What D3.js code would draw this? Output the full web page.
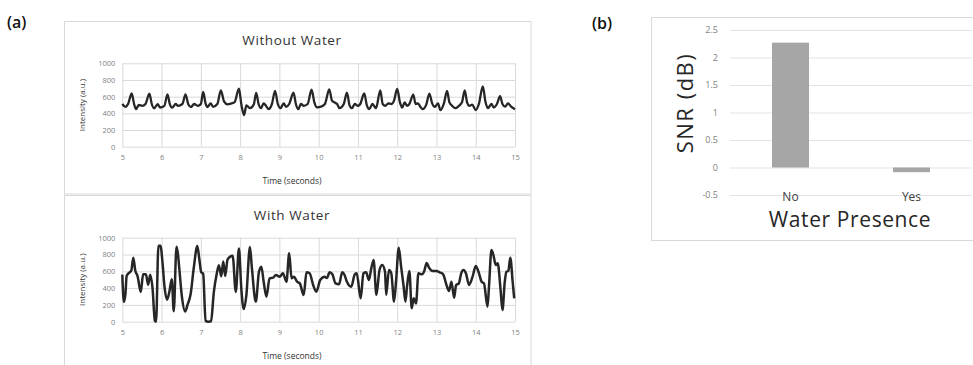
<!DOCTYPE html>
<html>
<head>
<meta charset="utf-8">
<script src="https://cdn.jsdelivr.net/npm/d3@7"></script>
<style>
  body { margin: 0; background: #fff; }
  svg { display: block; font-family: "Open Sans", sans-serif; }
</style>
</head>
<body>
<div id="chart"></div>
<script>
// Intensity traces, [time (s), intensity (a.u.)]
const withoutWater = [
  [5.00,512],[5.08,478],[5.15,515],[5.24,640],[5.30,512],[5.35,450],[5.42,500],[5.51,490],[5.59,512],
  [5.69,636],[5.75,512],[5.81,460],[5.90,510],[5.96,470],[6.07,490],[6.15,628],[6.21,510],[6.27,468],
  [6.36,512],[6.42,490],[6.53,512],[6.61,628],[6.68,510],[6.75,476],[6.83,512],[6.92,490],[7.00,512],
  [7.06,656],[7.12,520],[7.17,476],[7.25,520],[7.31,478],[7.42,512],[7.51,676],[7.59,544],[7.68,508],
  [7.78,520],[7.86,535],[7.97,696],[8.03,512],[8.10,380],[8.16,495],[8.25,462],[8.35,510],[8.41,645],
  [8.47,512],[8.53,462],[8.60,520],[8.66,490],[8.72,450],[8.81,512],[8.89,668],[8.96,512],[9.03,462],
  [9.11,520],[9.17,478],[9.25,512],[9.36,648],[9.42,512],[9.48,450],[9.55,512],[9.62,490],[9.72,512],
  [9.82,684],[9.89,532],[9.96,472],[10.06,480],[10.16,512],[10.27,688],[10.34,552],[10.40,532],[10.47,512],
  [10.53,462],[10.64,512],[10.72,648],[10.79,492],[10.85,462],[10.92,512],[11.00,490],[11.06,512],[11.16,640],
  [11.23,492],[11.29,450],[11.37,512],[11.46,462],[11.57,676],[11.63,512],[11.70,490],[11.77,520],[11.86,512],
  [11.92,552],[12.00,694],[12.07,532],[12.13,470],[12.19,532],[12.25,490],[12.31,512],[12.41,624],[12.47,512],
  [12.53,520],[12.59,478],[12.65,450],[12.74,504],[12.82,636],[12.89,520],[12.96,478],[13.04,520],[13.10,438],
  [13.19,520],[13.27,668],[13.33,532],[13.40,490],[13.48,462],[13.57,490],[13.65,532],[13.72,676],[13.78,532],
  [13.84,490],[13.91,504],[14.00,438],[14.08,512],[14.18,722],[14.25,532],[14.31,462],[14.40,512],[14.46,470],
  [14.54,512],[14.62,606],[14.68,512],[14.75,480],[14.82,520],[14.90,480],[15.00,450]
];

const withWater = [
  [5.00,560],[5.04,235],[5.08,330],[5.11,545],[5.18,585],[5.23,610],[5.28,762],[5.33,610],[5.39,540],
  [5.47,355],[5.53,565],[5.60,565],[5.66,440],[5.71,560],[5.77,400],[5.83,10],[5.86,0],[5.92,905],
  [5.97,905],[6.03,670],[6.07,437],[6.14,262],[6.20,360],[6.26,505],[6.31,125],[6.38,893],[6.42,794],
  [6.45,640],[6.52,290],[6.60,120],[6.66,200],[6.74,330],[6.82,640],[6.91,900],[6.96,750],[7.01,590],
  [7.06,570],[7.12,10],[7.19,0],[7.26,5],[7.33,350],[7.40,560],[7.46,672],[7.52,540],[7.57,718],
  [7.62,545],[7.68,740],[7.75,775],[7.81,785],[7.89,355],[7.97,870],[8.03,400],[8.09,150],[8.16,318],
  [8.25,890],[8.30,640],[8.40,238],[8.48,595],[8.54,655],[8.60,476],[8.67,298],[8.75,516],[8.84,524],
  [8.91,556],[9.01,536],[9.09,576],[9.18,476],[9.25,814],[9.31,516],[9.37,536],[9.45,476],[9.52,456],
  [9.62,318],[9.69,588],[9.77,576],[9.86,437],[9.94,357],[10.04,496],[10.15,536],[10.21,520],[10.28,588],
  [10.35,564],[10.43,456],[10.52,445],[10.60,588],[10.66,556],[10.72,476],[10.83,417],[10.92,564],[10.97,576],
  [11.07,278],[11.14,576],[11.21,588],[11.28,496],[11.34,635],[11.40,734],[11.47,318],[11.55,615],[11.62,675],
  [11.69,595],[11.72,318],[11.79,615],[11.85,576],[11.92,238],[11.97,476],[12.04,881],[12.10,655],[12.16,437],
  [12.21,238],[12.25,417],[12.31,603],[12.37,159],[12.42,278],[12.48,218],[12.54,576],[12.63,564],[12.69,603],
  [12.75,699],[12.81,643],[12.90,603],[13.00,603],[13.08,588],[13.17,564],[13.25,445],[13.32,365],[13.38,476],
  [13.45,286],[13.50,437],[13.57,456],[13.63,576],[13.69,615],[13.75,576],[13.83,437],[13.92,536],[14.00,663],
  [14.07,595],[14.15,476],[14.21,456],[14.30,179],[14.34,437],[14.40,853],[14.45,794],[14.51,675],[14.56,695],
  [14.63,397],[14.68,139],[14.74,476],[14.78,595],[14.83,603],[14.88,762],[14.94,476],[14.98,278]
];

const timeTicks = [5, 6, 7, 8, 9, 10, 11, 12, 13, 14, 15];
const intensityTicks = [0, 200, 400, 600, 800, 1000];

// SNR bar chart
const waterPresence = ["No", "Yes"];
const snrValues = [2.27, -0.085];
const snrTicks = [-0.5, 0, 0.5, 1, 1.5, 2, 2.5];
const snrTickLabels = ["-0.5", "0", "0.5", "1", "1.5", "2", "2.5"];

const width = 973, height = 365;
const gridColor = "#d9d9d9";
const tickColor = "#7f7f7f";

const svg = d3.select("#chart").append("svg")
  .attr("width", width)
  .attr("height", height);

svg.append("rect").attr("width", width).attr("height", height).attr("fill", "#fff");

// panel labels
svg.append("text").attr("x", 7).attr("y", 28)
  .style("font-size", "16px").style("font-weight", 600).attr("fill", "#111").text("(a)");
svg.append("text").attr("x", 592).attr("y", 29)
  .style("font-size", "16px").style("font-weight", 600).attr("fill", "#111").text("(b)");

const x = d3.scaleLinear().domain([5, 15]).range([122.3, 515]);

function drawTrace(box, top, bottom, title, data, lineWidth) {
  // chart frame
  svg.append("rect")
    .attr("x", box[0]).attr("y", box[1])
    .attr("width", box[2]).attr("height", box[3])
    .attr("fill", "none").attr("stroke", gridColor).attr("stroke-width", 1);

  const y = d3.scaleLinear().domain([0, 1000]).range([bottom, top]);
  const g = svg.append("g");

  const yAxis = g.append("g")
    .attr("transform", `translate(${x(5)},0)`)
    .call(d3.axisLeft(y).tickValues(intensityTicks).tickFormat(d3.format("d"))
      .tickSize(-(x(15) - x(5))).tickPadding(7));
  const xAxis = g.append("g")
    .attr("transform", `translate(0,${bottom})`)
    .call(d3.axisBottom(x).tickValues(timeTicks).tickSize(-(bottom - top)).tickPadding(8));

  [yAxis, xAxis].forEach(a => {
    a.select(".domain").remove();
    a.selectAll("line").attr("stroke", gridColor);
    a.selectAll("text").attr("fill", tickColor).style("font-size", "7.5px").style("font-family", "Open Sans");
  });

  // smoothed line like the spreadsheet chart
  const line = d3.line()
    .x(d => x(d[0]))
    .y(d => y(d[1]))
    .curve(d3.curveMonotoneX);

  g.append("path")
    .datum(data)
    .attr("fill", "none")
    .attr("stroke", "#262626")
    .attr("stroke-width", lineWidth)
    .attr("stroke-linejoin", "round")
    .attr("d", line);

  g.append("text")
    .attr("x", 292).attr("y", top - 18)
    .attr("text-anchor", "middle")
    .style("font-size", "13.5px").attr("fill", "#333")
    .style("letter-spacing", "0.6px")
    .text(title);

  g.append("text")
    .attr("transform", `translate(85,${(top + bottom) / 2}) rotate(-90)`)
    .attr("text-anchor", "middle")
    .style("font-size", "8px").attr("fill", "#333")
    .text("Intensity (a.u.)");

  g.append("text")
    .attr("x", 292).attr("y", bottom + 37)
    .attr("text-anchor", "middle")
    .style("font-size", "8.5px").attr("fill", "#333")
    .text("Time (seconds)");
}

drawTrace([64.5, 21.5, 466.5, 172.5], 63.3, 146.7, "Without Water", withoutWater, 2.3);
drawTrace([64.5, 195.5, 466.5, 180], 237.7, 321.7, "With Water", withWater, 2.5);

// ---- (b) SNR bars ----
svg.append("rect")
  .attr("x", 651.5).attr("y", 17.5)
  .attr("width", 330).attr("height", 223)
  .attr("fill", "none").attr("stroke", gridColor);

const xb = d3.scaleBand().domain(waterPresence).range([730, 972]).padding(0);
const yb = d3.scaleLinear().domain([-0.5, 2.5]).range([195, 30]);

const gb = svg.append("g");
const ybAxis = gb.append("g")
  .attr("transform", "translate(730,0)")
  .call(d3.axisLeft(yb).tickValues(snrTicks).tickSize(-242).tickPadding(12)
    .tickFormat((d, i) => snrTickLabels[i]));
ybAxis.select(".domain").remove();
ybAxis.selectAll("line").attr("stroke", "#e3e3e3");
ybAxis.selectAll("text").attr("fill", tickColor).style("font-size", "9px").style("font-family", "Open Sans");

const barW = 37;
gb.selectAll("rect.bar")
  .data(waterPresence)
  .join("rect")
  .attr("class", "bar")
  .attr("x", d => xb(d) + (xb.bandwidth() - barW) / 2)
  .attr("width", barW)
  .attr("y", (d, i) => yb(Math.max(0, snrValues[i])))
  .attr("height", (d, i) => Math.abs(yb(snrValues[i]) - yb(0)))
  .attr("fill", "#a6a6a6");

gb.selectAll("text.cat")
  .data(waterPresence)
  .join("text")
  .attr("class", "cat")
  .attr("x", d => xb(d) + xb.bandwidth() / 2)
  .attr("y", 201)
  .attr("text-anchor", "middle")
  .style("font-size", "12px").attr("fill", "#404040")
  .text(d => d);

gb.append("text")
  .attr("x", 850).attr("y", 227)
  .attr("text-anchor", "middle")
  .style("font-size", "21px").attr("fill", "#262626")
  .style("letter-spacing", "0.6px")
  .text("Water Presence");

gb.append("text")
  .attr("transform", "translate(693,103) rotate(-90)")
  .attr("text-anchor", "middle")
  .style("font-size", "22px").attr("fill", "#262626")
  .style("letter-spacing", "1.5px")
  .text("SNR (dB)");
</script>
</body>
</html>
